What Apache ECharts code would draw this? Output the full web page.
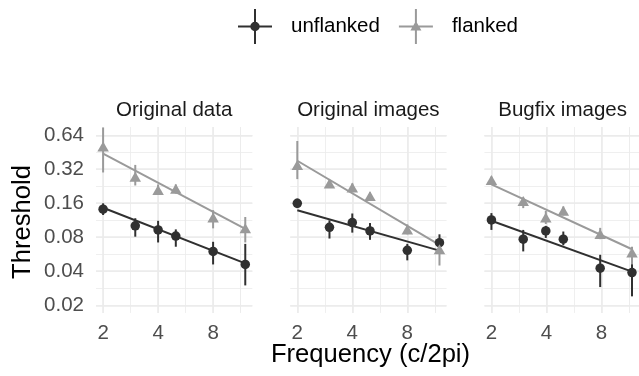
<!DOCTYPE html>
<html>
<head>
<meta charset="utf-8">
<script src="https://cdn.jsdelivr.net/npm/echarts@6/dist/echarts.min.js"></script>
<style>
html, body { margin: 0; padding: 0; background: #fff; }
#chart { width: 639px; height: 376px; }
</style>
</head>
<body>
<div id="chart"></div>
<script>
var panels = ['Original data', 'Original images', 'Bugfix images'];
var freqs = [2, 3, 4, 5, 8, 12];
var fitFreqs = [2, 12];

// threshold per panel, one row per panel, one value per frequency
var unflanked = [
    [0.142, 0.101, 0.093, 0.082, 0.060, 0.046],
    [0.160, 0.098, 0.108, 0.091, 0.0614, 0.0717],
    [0.114, 0.077, 0.091, 0.077, 0.0426, 0.039]
];
var unflankedLo = [
    [0.126, 0.081, 0.072, 0.066, 0.046, 0.030],
    [0.145, 0.078, 0.088, 0.076, 0.050, 0.066],
    [0.093, 0.060, 0.079, 0.068, 0.029, 0.024]
];
var unflankedHi = [
    [0.160, 0.118, 0.112, 0.094, 0.073, 0.070],
    [0.176, 0.113, 0.130, 0.107, 0.070, 0.085],
    [0.131, 0.093, 0.101, 0.090, 0.056, 0.050]
];
var flanked = [
    [0.51, 0.275, 0.21, 0.215, 0.120, 0.096],
    [0.349, 0.240, 0.221, 0.186, 0.094, 0.0627],
    [0.257, 0.168, 0.120, 0.1376, 0.0857, 0.0586]
];
var flankedLo = [
    [0.30, 0.23, 0.19, 0.195, 0.096, 0.072],
    [0.262, 0.225, 0.205, 0.172, 0.085, 0.045],
    [0.24, 0.145, 0.105, 0.125, 0.077, 0.046]
];
var flankedHi = [
    [0.75, 0.35, 0.235, 0.235, 0.139, 0.121],
    [0.57, 0.26, 0.24, 0.20, 0.104, 0.070],
    [0.275, 0.18, 0.137, 0.15, 0.097, 0.066]
];
// fitted line ends at 2 and 12 c/2pi
var unflankedFit = [[0.146, 0.047], [0.139, 0.061], [0.112, 0.0397]];
var flankedFit = [[0.44, 0.095], [0.381, 0.0686], [0.235, 0.0627]];

var xRange = [1.829, 13.12];
var yRange = [0.0171, 0.758];
var xTickRange = [2, 8];
var yTickRange = [0.02, 0.64];

var FONT = 'Liberation Sans';
var DARK = '#303030', GREY = '#9a9a9a', GRIDC = '#ebebeb';

// layout
var pos2 = [103.1, 297.3, 491.5];   // pixel column of x = 2 in each panel
var OCT_X = 55, OCT_Y = 34, TOP = 127;

function lg(v) { return Math.log(v) / Math.LN2; }
function yPix(v) { return TOP + (lg(yRange[1]) - lg(v)) * OCT_Y; }

var grids = [], xAxes = [], yAxes = [], series = [], graphics = [];

function addGrid(g, xa, ya) {
    grids.push(g);
    xa.gridIndex = grids.length - 1;
    ya.gridIndex = grids.length - 1;
    xAxes.push(xa);
    yAxes.push(ya);
    return grids.length - 1;
}
function hidden() { return { type: 'value', show: false, min: 0, max: 1 }; }

function logAxis(min, max, interval, lineW, labels, fmt, margin) {
    return {
        type: 'log', logBase: 2, min: min, max: max, interval: interval,
        axisLine: { show: false }, axisTick: { show: false },
        splitLine: { show: true, lineStyle: { color: GRIDC, width: lineW } },
        minorSplitLine: { show: false },
        axisLabel: {
            show: labels, showMinLabel: true, showMaxLabel: true,
            fontFamily: FONT, fontSize: 20.5, color: '#4d4d4d', margin: margin,
            formatter: fmt
        }
    };
}
var yFmt = function (v) { return v.toFixed(2); };
var xFmt = function (v) { return String(Math.round(v)); };

function errorBars(color) {
    return function (params, api) {
        var a = api.coord([api.value(0), api.value(1)]);
        var b = api.coord([api.value(0), api.value(2)]);
        return {
            type: 'line',
            shape: { x1: a[0], y1: a[1], x2: b[0], y2: b[1] },
            style: { stroke: color, lineWidth: 2 }
        };
    };
}

panels.forEach(function (title, i) {
    var left = pos2[i] + lg(xRange[0] / 2) * OCT_X;
    var width = lg(xRange[1] / xRange[0]) * OCT_X;
    var height = lg(yRange[1] / yRange[0]) * OCT_Y;
    var yTop = yPix(yTickRange[1]);
    var yH = lg(yTickRange[1] / yTickRange[0]) * OCT_Y;

    // minor grid lines
    addGrid({ left: pos2[i], top: TOP, width: 2.5 * OCT_X, height: height },
        logAxis(2, 8 * Math.SQRT2, 0.5, 0.8, false, xFmt, 10), hidden());
    addGrid({ left: left, top: yTop, width: width, height: yH },
        hidden(), logAxis(0.02, 0.64, 0.5, 0.8, false, yFmt, 12));
    // major grid lines and labels
    addGrid({ left: pos2[i], top: TOP, width: 2 * OCT_X, height: height },
        logAxis(xTickRange[0], xTickRange[1], 1, 1.6, true, xFmt, 10), hidden());
    addGrid({ left: left, top: yTop, width: width, height: yH },
        hidden(), logAxis(yTickRange[0], yTickRange[1], 1, 1.6, i === 0, yFmt, 12));
    // data
    var d = addGrid({ left: left, top: TOP, width: width, height: height },
        { type: 'log', logBase: 2, min: xRange[0], max: xRange[1], show: false },
        { type: 'log', logBase: 2, min: yRange[0], max: yRange[1], show: false });

    var groups = [
        { name: 'unflanked', val: unflanked[i], lo: unflankedLo[i], hi: unflankedHi[i], fit: unflankedFit[i],
          color: DARK, symbol: 'circle', size: 9.5 },
        { name: 'flanked', val: flanked[i], lo: flankedLo[i], hi: flankedHi[i], fit: flankedFit[i],
          color: GREY, symbol: 'triangle', size: [11.5, 10] }
    ];
    groups.forEach(function (g) {
        series.push({
            type: 'line', name: g.name + ' fit', xAxisIndex: d, yAxisIndex: d,
            data: fitFreqs.map(function (f, k) { return [f, g.fit[k]]; }),
            symbol: 'none', silent: true, z: 2,
            lineStyle: { color: g.color, width: 2 }
        });
        series.push({
            type: 'custom', name: g.name + ' range', xAxisIndex: d, yAxisIndex: d,
            data: freqs.map(function (f, k) { return [f, g.lo[k], g.hi[k]]; }),
            encode: { x: 0, y: [1, 2] }, renderItem: errorBars(g.color), silent: true, z: 3
        });
        series.push({
            type: 'scatter', name: g.name, xAxisIndex: d, yAxisIndex: d,
            data: freqs.map(function (f, k) { return [f, g.val[k]]; }),
            symbol: g.symbol, symbolSize: g.size, silent: true, z: 4,
            itemStyle: { color: g.color, opacity: 1 }
        });
    });

    graphics.push({
        type: 'text', x: left + width / 2, y: 110,
        style: { text: title, fontFamily: FONT, fontSize: 20.5, fill: '#1a1a1a',
                 textAlign: 'center', textVerticalAlign: 'middle' }
    });
});

graphics.push({
    type: 'text', x: 370.5, y: 355,
    style: { text: 'Frequency (c/2pi)', fontFamily: FONT, fontSize: 25.6, fill: '#000',
             textAlign: 'center', textVerticalAlign: 'middle' }
});
graphics.push({
    type: 'text', x: 23, y: 222, rotation: Math.PI / 2,
    style: { text: 'Threshold', fontFamily: FONT, fontSize: 25.6, fill: '#000',
             textAlign: 'center', textVerticalAlign: 'middle' }
});

var crossBars = 'M0,16.5L34,16.5L34,18.5L0,18.5Z M16,0L18,0L18,35L16,35Z ';
var iconUnflanked = 'path://' + crossBars +
    'M12.25,17.5A4.75,4.75,0,1,1,21.75,17.5A4.75,4.75,0,1,1,12.25,17.5Z';
var iconFlanked = 'path://' + crossBars + 'M11.5,21.5L17,12L22.5,21.5Z';

var myChart = echarts.init(document.getElementById('chart'));
var option = {
    animation: false,
    backgroundColor: '#fff',
    legend: {
        left: 238, top: 9, padding: 0, itemWidth: 34, itemHeight: 35, itemGap: 19,
        selectedMode: false,
        textStyle: { fontFamily: FONT, fontSize: 20.5, color: '#000', padding: [0, 0, 0, 14] },
        data: [
            { name: 'unflanked', icon: iconUnflanked },
            { name: 'flanked', icon: iconFlanked }
        ]
    },
    grid: grids,
    xAxis: xAxes,
    yAxis: yAxes,
    series: series,
    graphic: graphics
};
myChart.setOption(option);
</script>
</body>
</html>
